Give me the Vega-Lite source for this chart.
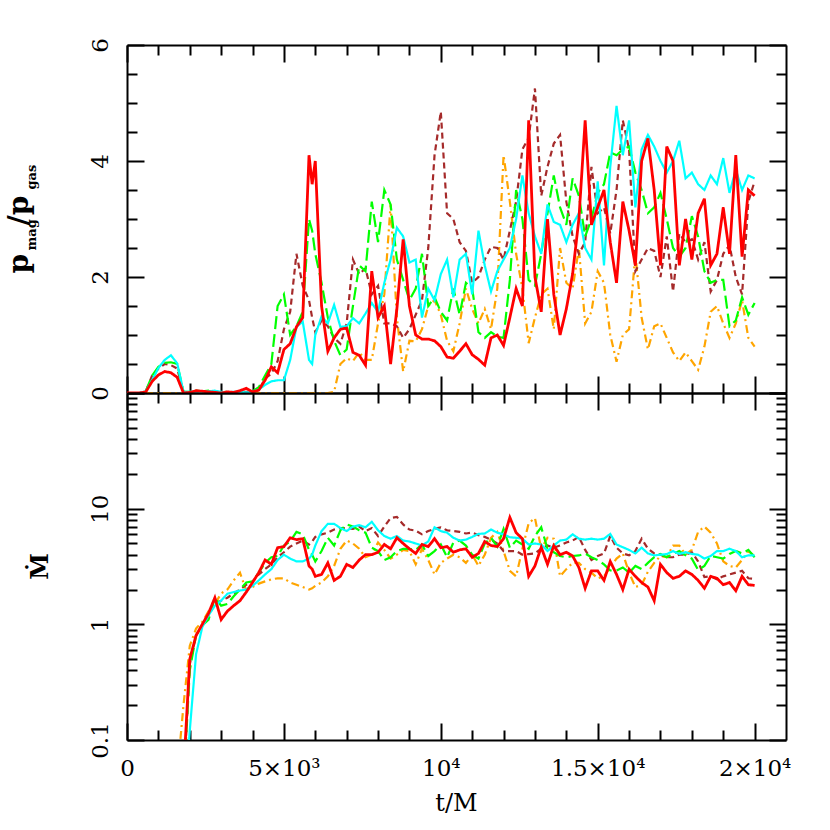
{
"$schema": "https://vega.github.io/schema/vega-lite/v6.json",
"padding": {"left": 5, "top": 37, "right": 5, "bottom": 5},
"background": "white",
"bounds": "flush",
"config": {
  "view": {"stroke": null},
  "axis": {"domainColor": "black", "domainWidth": 2, "tickColor": "black", "tickWidth": 2, "labelFont": "DejaVu Serif", "labelFontSize": 23, "labelColor": "black", "titleFont": "DejaVu Serif", "titleColor": "black", "grid": false, "labelOverlap": false, "labelFlush": false}
},
"datasets": {
"top": [
{"t":0,"c":0,"r":0,"g":0,"b":0,"o":0},
{"t":200,"c":0,"r":0,"g":0,"b":0,"o":0},
{"t":400,"c":0,"r":0,"g":0,"b":0,"o":0},
{"t":600,"c":0.03,"r":0.02,"g":0.03,"b":0.03,"o":0},
{"t":800,"c":0.22,"r":0.2,"g":0.3,"b":0.3,"o":0},
{"t":1000,"c":0.43,"r":0.31,"g":0.45,"b":0.42,"o":0},
{"t":1200,"c":0.57,"r":0.37,"g":0.52,"b":0.5,"o":0},
{"t":1400,"c":0.65,"r":0.35,"g":0.53,"b":0.48,"o":0},
{"t":1600,"c":0.51,"r":0.27,"g":0.5,"b":0.42,"o":0},
{"t":1800,"c":0.02,"r":0,"g":0.02,"b":0.02,"o":0},
{"t":2000,"c":0.02,"r":0.01,"g":0.02,"b":0.01,"o":0},
{"t":2200,"c":0.03,"r":0.04,"g":0.04,"b":0.02,"o":0},
{"t":2400,"c":0.02,"r":0.03,"g":0.03,"b":0.01,"o":0},
{"t":2600,"c":0.03,"r":0.02,"g":0.04,"b":0.02,"o":0},
{"t":2800,"c":0.04,"r":0.01,"g":0.02,"b":0.01,"o":0},
{"t":3000,"c":0.02,"r":0,"g":0.01,"b":0.02,"o":0},
{"t":3200,"c":0.01,"r":0.02,"g":0.02,"b":0.01,"o":0},
{"t":3400,"c":0.02,"r":0.01,"g":0.01,"b":0.01,"o":0},
{"t":3600,"c":0.02,"r":0.04,"g":0.02,"b":0.02,"o":0},
{"t":3800,"c":0.01,"r":0.08,"g":0.01,"b":0.02,"o":0},
{"t":4000,"c":0.02,"r":0.02,"g":0.03,"b":0.02,"o":0},
{"t":4200,"c":0.06,"r":0.05,"g":0.1,"b":0.05,"o":0},
{"t":4400,"c":0.14,"r":0.22,"g":0.3,"b":0.25,"o":0},
{"t":4600,"c":0.2,"r":0.45,"g":0.5,"b":0.33,"o":0},
{"t":4800,"c":0.22,"r":0.35,"g":1.5,"b":0.55,"o":0},
{"t":5000,"c":0.22,"r":0.75,"g":1.7,"b":1.1,"o":0},
{"t":5200,"c":0.57,"r":0.85,"g":1.0,"b":1.4,"o":0},
{"t":5400,"c":1.14,"r":1.14,"g":1.15,"b":2.4,"o":0},
{"t":5600,"c":1.23,"r":1.3,"g":1.4,"b":1.85,"o":0},
{"t":5800,"c":0.57,"r":4.1,"g":3.0,"b":1.6,"o":0},
{"t":5900,"c":0.5,"r":3.6,"g":2.8,"b":1.3,"o":0},
{"t":6000,"c":1.0,"r":4.0,"g":2.4,"b":1.05,"o":0},
{"t":6200,"c":1.32,"r":1.5,"g":1.9,"b":1.25,"o":0},
{"t":6400,"c":1.2,"r":0.72,"g":1.3,"b":1.15,"o":0},
{"t":6600,"c":1.52,"r":0.95,"g":0.9,"b":0.95,"o":0.02},
{"t":6800,"c":1.14,"r":1.1,"g":0.65,"b":0.85,"o":0.5},
{"t":7000,"c":1.15,"r":1.12,"g":0.75,"b":1.2,"o":0.6},
{"t":7200,"c":1.29,"r":0.7,"g":1.5,"b":2.3,"o":0.55},
{"t":7400,"c":1.2,"r":0.65,"g":2.2,"b":2.05,"o":0.7},
{"t":7600,"c":1.37,"r":0.48,"g":2.1,"b":2.15,"o":0.57},
{"t":7800,"c":1.55,"r":2.1,"g":3.3,"b":1.7,"o":0.57},
{"t":8000,"c":1.4,"r":1.3,"g":2.6,"b":1.85,"o":1.2},
{"t":8200,"c":1.9,"r":1.5,"g":3.5,"b":1.2,"o":1.7},
{"t":8400,"c":2.3,"r":0.5,"g":3.25,"b":1.2,"o":3.25},
{"t":8600,"c":2.85,"r":1.45,"g":2.3,"b":1.15,"o":1.3},
{"t":8800,"c":2.7,"r":2.65,"g":1.95,"b":0.95,"o":0.37},
{"t":9000,"c":2.25,"r":1.5,"g":1.6,"b":1.1,"o":0.9},
{"t":9200,"c":2.3,"r":1.0,"g":1.8,"b":1.35,"o":0.89},
{"t":9400,"c":1.3,"r":0.93,"g":2.4,"b":1.6,"o":1.1},
{"t":9600,"c":1.8,"r":0.93,"g":1.5,"b":2.5,"o":1.5},
{"t":9800,"c":1.6,"r":0.9,"g":1.65,"b":4.1,"o":1.6},
{"t":10000,"c":2.05,"r":0.8,"g":1.4,"b":4.85,"o":1.35},
{"t":10200,"c":2.3,"r":0.62,"g":1.25,"b":3.1,"o":0.9},
{"t":10400,"c":1.65,"r":0.6,"g":1.8,"b":3.0,"o":0.72},
{"t":10600,"c":2.3,"r":0.72,"g":1.35,"b":2.6,"o":1.2},
{"t":10800,"c":2.4,"r":0.85,"g":1.9,"b":2.45,"o":1.8},
{"t":11000,"c":1.7,"r":0.66,"g":1.8,"b":1.9,"o":1.45},
{"t":11200,"c":2.8,"r":0.58,"g":1.05,"b":2.0,"o":1.2},
{"t":11400,"c":2.2,"r":0.48,"g":0.95,"b":2.3,"o":1.45},
{"t":11600,"c":1.75,"r":0.95,"g":1.05,"b":2.52,"o":1.1},
{"t":11800,"c":2.1,"r":1.0,"g":0.97,"b":2.5,"o":1.8},
{"t":12000,"c":2.3,"r":0.82,"g":0.95,"b":2.3,"o":4.1},
{"t":12200,"c":2.5,"r":1.3,"g":1.95,"b":2.8,"o":3.3},
{"t":12400,"c":3.0,"r":1.8,"g":3.5,"b":3.3,"o":2.4},
{"t":12600,"c":3.75,"r":1.5,"g":3.0,"b":4.2,"o":1.8},
{"t":12800,"c":3.1,"r":4.7,"g":1.95,"b":4.4,"o":0.86},
{"t":13000,"c":2.7,"r":2.0,"g":1.85,"b":5.25,"o":1.3},
{"t":13200,"c":2.4,"r":1.4,"g":2.4,"b":3.4,"o":1.7},
{"t":13400,"c":3.25,"r":3.0,"g":3.1,"b":3.9,"o":1.8},
{"t":13600,"c":2.95,"r":1.7,"g":3.75,"b":4.3,"o":1.1},
{"t":13800,"c":2.9,"r":1.0,"g":3.2,"b":4.45,"o":2.5},
{"t":14000,"c":2.6,"r":1.45,"g":2.9,"b":3.3,"o":1.9},
{"t":14200,"c":2.9,"r":2.05,"g":3.7,"b":2.7,"o":1.8},
{"t":14400,"c":3.1,"r":3.0,"g":3.4,"b":2.4,"o":2.5},
{"t":14600,"c":2.5,"r":4.7,"g":2.7,"b":2.6,"o":1.2},
{"t":14800,"c":2.3,"r":2.9,"g":3.0,"b":3.9,"o":1.4},
{"t":15000,"c":3.65,"r":3.2,"g":3.45,"b":3.1,"o":2.1},
{"t":15200,"c":2.2,"r":3.5,"g":3.6,"b":3.2,"o":1.9},
{"t":15400,"c":3.9,"r":2.6,"g":4.15,"b":2.75,"o":1.0},
{"t":15600,"c":4.95,"r":1.9,"g":4.1,"b":3.5,"o":0.54},
{"t":15800,"c":4.1,"r":3.3,"g":4.2,"b":4.7,"o":1.0},
{"t":16000,"c":4.7,"r":2.8,"g":4.25,"b":4.2,"o":1.1},
{"t":16200,"c":3.2,"r":2.2,"g":3.8,"b":2.1,"o":2.4},
{"t":16400,"c":4.2,"r":4.0,"g":3.5,"b":2.3,"o":1.3},
{"t":16600,"c":4.45,"r":4.39,"g":3.1,"b":2.5,"o":0.75},
{"t":16800,"c":4.25,"r":3.5,"g":3.2,"b":2.45,"o":1.15},
{"t":17000,"c":4.0,"r":2.2,"g":3.45,"b":2.0,"o":1.2},
{"t":17200,"c":3.8,"r":4.25,"g":3.0,"b":2.7,"o":0.95},
{"t":17400,"c":4.0,"r":4.0,"g":2.5,"b":1.75,"o":0.7},
{"t":17600,"c":4.35,"r":2.2,"g":2.35,"b":2.75,"o":0.55},
{"t":17800,"c":3.7,"r":3.0,"g":2.5,"b":2.6,"o":0.7},
{"t":18000,"c":3.8,"r":2.3,"g":3.05,"b":2.65,"o":0.55},
{"t":18200,"c":3.6,"r":3.1,"g":2.7,"b":2.3,"o":0.4},
{"t":18400,"c":3.5,"r":3.35,"g":2.1,"b":2.6,"o":0.8},
{"t":18600,"c":3.75,"r":2.2,"g":1.9,"b":1.75,"o":1.4},
{"t":18800,"c":3.6,"r":2.4,"g":1.95,"b":1.95,"o":1.5},
{"t":19000,"c":4.05,"r":3.2,"g":1.95,"b":2.4,"o":1.2},
{"t":19200,"c":3.45,"r":2.4,"g":1.15,"b":2.55,"o":0.95},
{"t":19400,"c":3.85,"r":4.1,"g":1.25,"b":2.0,"o":1.2},
{"t":19600,"c":3.5,"r":2.35,"g":1.65,"b":1.7,"o":1.6},
{"t":19800,"c":3.75,"r":3.5,"g":1.35,"b":3.3,"o":0.95},
{"t":20000,"c":3.7,"r":3.4,"g":1.55,"b":3.65,"o":0.8}
],
"bot": [
{"t":1600,"c":null,"r":null,"g":null,"b":null,"o":0.05},
{"t":1800,"c":0.02,"r":0.05,"g":0.04,"b":0.04,"o":0.2},
{"t":2000,"c":0.12,"r":0.5,"g":0.4,"b":0.45,"o":0.65},
{"t":2200,"c":0.55,"r":0.8,"g":0.8,"b":0.8,"o":0.92},
{"t":2400,"c":0.95,"r":1.0,"g":0.98,"b":1.0,"o":1.05},
{"t":2600,"c":1.2,"r":1.25,"g":1.1,"b":1.2,"o":1.3},
{"t":2800,"c":1.45,"r":1.7,"g":1.7,"b":1.5,"o":1.5},
{"t":3000,"c":1.6,"r":1.1,"g":1.45,"b":1.6,"o":1.85},
{"t":3200,"c":1.84,"r":1.3,"g":1.5,"b":1.7,"o":2.0},
{"t":3400,"c":1.9,"r":1.45,"g":1.75,"b":1.85,"o":2.4},
{"t":3600,"c":1.96,"r":1.6,"g":2.0,"b":2.0,"o":2.8},
{"t":3800,"c":2.0,"r":1.9,"g":2.3,"b":2.2,"o":1.96},
{"t":4000,"c":2.15,"r":2.3,"g":2.35,"b":2.35,"o":2.1},
{"t":4200,"c":2.4,"r":2.8,"g":2.8,"b":2.7,"o":2.25},
{"t":4400,"c":2.7,"r":3.6,"g":3.4,"b":3.0,"o":2.35},
{"t":4600,"c":3.0,"r":3.3,"g":3.8,"b":3.3,"o":2.45},
{"t":4800,"c":3.6,"r":4.6,"g":3.9,"b":3.8,"o":2.5},
{"t":5000,"c":4.0,"r":4.7,"g":4.8,"b":4.2,"o":2.5},
{"t":5200,"c":3.7,"r":5.6,"g":5.2,"b":4.7,"o":2.3},
{"t":5400,"c":3.5,"r":5.4,"g":6.3,"b":5.0,"o":2.2},
{"t":5600,"c":3.5,"r":5.5,"g":6.0,"b":5.3,"o":2.1},
{"t":5800,"c":3.7,"r":3.2,"g":4.4,"b":4.9,"o":2.0},
{"t":5900,"c":4.0,"r":3.0,"g":4.0,"b":5.2,"o":2.05},
{"t":6000,"c":4.8,"r":2.6,"g":3.5,"b":5.7,"o":2.15},
{"t":6200,"c":6.4,"r":2.7,"g":4.3,"b":6.0,"o":2.3},
{"t":6400,"c":7.4,"r":3.4,"g":5.6,"b":6.2,"o":2.6},
{"t":6600,"c":7.4,"r":2.4,"g":4.8,"b":6.6,"o":3.2},
{"t":6800,"c":6.8,"r":2.6,"g":6.5,"b":6.8,"o":4.5},
{"t":7000,"c":6.4,"r":3.3,"g":7.3,"b":6.8,"o":5.3},
{"t":7200,"c":7.0,"r":3.1,"g":7.0,"b":6.7,"o":5.0},
{"t":7400,"c":7.2,"r":3.6,"g":6.5,"b":7.0,"o":4.5},
{"t":7600,"c":6.9,"r":4.0,"g":6.2,"b":6.4,"o":3.8},
{"t":7800,"c":7.7,"r":4.0,"g":4.6,"b":6.8,"o":4.0},
{"t":8000,"c":6.5,"r":4.2,"g":4.3,"b":5.8,"o":5.1},
{"t":8200,"c":5.8,"r":4.9,"g":3.6,"b":7.0,"o":4.4},
{"t":8400,"c":5.5,"r":4.5,"g":3.8,"b":8.3,"o":3.7},
{"t":8600,"c":5.8,"r":5.6,"g":4.3,"b":8.5,"o":4.0},
{"t":8800,"c":5.3,"r":5.0,"g":4.5,"b":7.3,"o":4.4},
{"t":9000,"c":5.2,"r":4.5,"g":4.5,"b":6.6,"o":4.3},
{"t":9200,"c":5.0,"r":4.1,"g":4.4,"b":6.45,"o":3.3},
{"t":9400,"c":4.8,"r":4.9,"g":4.9,"b":6.0,"o":4.5},
{"t":9600,"c":5.2,"r":4.7,"g":3.9,"b":6.4,"o":3.6},
{"t":9800,"c":6.9,"r":5.5,"g":4.3,"b":6.7,"o":2.7},
{"t":10000,"c":6.4,"r":4.6,"g":4.9,"b":6.9,"o":3.4},
{"t":10200,"c":6.2,"r":4.7,"g":3.8,"b":6.5,"o":3.7},
{"t":10400,"c":5.6,"r":4.2,"g":5.1,"b":6.4,"o":4.0},
{"t":10600,"c":5.3,"r":4.4,"g":5.3,"b":6.3,"o":3.8},
{"t":10800,"c":5.4,"r":4.5,"g":4.8,"b":6.1,"o":3.4},
{"t":11000,"c":5.7,"r":3.8,"g":4.0,"b":6.2,"o":4.0},
{"t":11200,"c":6.05,"r":4.1,"g":3.7,"b":5.9,"o":3.2},
{"t":11400,"c":6.1,"r":5.2,"g":5.0,"b":5.7,"o":4.0},
{"t":11600,"c":6.6,"r":4.8,"g":5.6,"b":5.4,"o":5.6},
{"t":11800,"c":6.2,"r":4.7,"g":4.7,"b":5.0,"o":6.3},
{"t":12000,"c":6.0,"r":5.5,"g":6.7,"b":4.3,"o":4.3},
{"t":12200,"c":5.66,"r":8.4,"g":4.6,"b":4.3,"o":2.9},
{"t":12400,"c":5.6,"r":6.2,"g":5.3,"b":4.3,"o":2.6},
{"t":12600,"c":5.5,"r":5.5,"g":4.9,"b":4.0,"o":4.5},
{"t":12800,"c":4.9,"r":2.6,"g":4.5,"b":4.05,"o":7.5},
{"t":13000,"c":5.0,"r":3.2,"g":5.8,"b":4.1,"o":8.3},
{"t":13200,"c":4.9,"r":4.64,"g":6.9,"b":4.5,"o":4.5},
{"t":13400,"c":4.3,"r":3.3,"g":4.5,"b":4.8,"o":5.6},
{"t":13600,"c":4.8,"r":4.8,"g":4.2,"b":4.6,"o":5.5},
{"t":13800,"c":5.3,"r":4.0,"g":3.9,"b":4.8,"o":2.6},
{"t":14000,"c":5.4,"r":4.2,"g":3.8,"b":5.1,"o":3.0},
{"t":14200,"c":6.0,"r":3.9,"g":3.9,"b":5.3,"o":3.4},
{"t":14400,"c":5.5,"r":3.1,"g":3.94,"b":5.7,"o":3.4},
{"t":14600,"c":5.4,"r":2.05,"g":4.1,"b":4.4,"o":3.0},
{"t":14800,"c":5.5,"r":2.9,"g":3.8,"b":3.6,"o":2.8},
{"t":15000,"c":5.4,"r":2.9,"g":3.6,"b":3.9,"o":2.5},
{"t":15200,"c":5.5,"r":2.4,"g":3.3,"b":4.1,"o":2.6},
{"t":15400,"c":6.05,"r":3.5,"g":2.92,"b":5.8,"o":3.1},
{"t":15600,"c":4.9,"r":2.7,"g":2.92,"b":4.6,"o":3.7},
{"t":15800,"c":4.64,"r":2.0,"g":3.1,"b":4.1,"o":4.1},
{"t":16000,"c":4.4,"r":3.0,"g":2.8,"b":3.95,"o":2.8},
{"t":16200,"c":4.1,"r":2.6,"g":3.2,"b":4.3,"o":2.1},
{"t":16400,"c":4.6,"r":2.3,"g":3.0,"b":5.5,"o":2.2},
{"t":16600,"c":4.1,"r":2.1,"g":3.4,"b":4.5,"o":2.85},
{"t":16800,"c":3.94,"r":1.6,"g":3.8,"b":4.1,"o":3.4},
{"t":17000,"c":4.0,"r":3.3,"g":4.06,"b":4.0,"o":3.9},
{"t":17200,"c":4.05,"r":2.8,"g":3.8,"b":3.8,"o":3.8},
{"t":17400,"c":4.3,"r":2.5,"g":4.06,"b":3.8,"o":4.8},
{"t":17600,"c":4.06,"r":2.6,"g":4.3,"b":4.0,"o":4.8},
{"t":17800,"c":4.2,"r":2.9,"g":3.95,"b":4.0,"o":4.0},
{"t":18000,"c":4.06,"r":2.7,"g":3.7,"b":4.2,"o":4.4},
{"t":18200,"c":4.0,"r":2.4,"g":2.95,"b":3.5,"o":6.3},
{"t":18400,"c":3.7,"r":2.05,"g":3.2,"b":2.56,"o":7.0},
{"t":18600,"c":3.9,"r":2.6,"g":3.9,"b":2.6,"o":6.2},
{"t":18800,"c":4.3,"r":2.5,"g":3.8,"b":2.45,"o":5.0},
{"t":19000,"c":4.3,"r":2.2,"g":3.7,"b":2.6,"o":3.5},
{"t":19200,"c":4.5,"r":2.3,"g":4.06,"b":2.7,"o":3.2},
{"t":19400,"c":4.3,"r":1.95,"g":4.3,"b":2.8,"o":3.1},
{"t":19600,"c":3.8,"r":2.6,"g":4.1,"b":2.9,"o":3.6},
{"t":19800,"c":3.95,"r":2.2,"g":4.4,"b":2.5,"o":4.3},
{"t":20000,"c":3.94,"r":2.17,"g":3.8,"b":2.47,"o":3.9}
]
},
"spacing": 0,
"vconcat": [
{
  "width": 659, "height": 348,
  "data": {"name": "top"},
  "transform": [{"fold": ["o","b","g","c","r"], "as": ["s","v"]}],
  "layer": [
    {
      "mark": {"type": "line", "clip": true},
      "encoding": {
        "x": {"field": "t", "type": "quantitative", "scale": {"domain": [0, 21000], "nice": false, "zero": false},
          "axis": {"orient": "bottom", "values": [0,1000,2000,3000,4000,5000,6000,7000,8000,9000,10000,11000,12000,13000,14000,15000,16000,17000,18000,19000,20000],
            "tickSize": {"condition": {"test": "datum.value % 5000 === 0", "value": -17}, "value": -10},
            "labels": false, "title": null}},
        "y": {"field": "v", "type": "quantitative", "scale": {"domain": [0, 6], "nice": false},
          "axis": {"orient": "left", "values": [0,0.5,1,1.5,2,2.5,3,3.5,4,4.5,5,5.5,6],
            "tickSize": {"condition": {"test": "datum.value % 2 === 0", "value": -17}, "value": -10},
            "labelExpr": "datum.value == 0 ? '0' : datum.value == 2 ? '2' : datum.value == 4 ? '4' : datum.value == 6 ? '6' : ''",
            "labelAngle": -90, "labelAlign": "center", "labelBaseline": "bottom", "labelPadding": 32,
            "title": "p", "titleFontSize": 28, "titleFontWeight": "bold", "titleAngle": -90, "titleAlign": "left", "titleBaseline": "alphabetic", "titleX": -100, "titleY": 228}},
        "color": {"field": "s", "type": "nominal", "scale": {"domain": ["o","b","g","c","r"], "range": ["#FFA500","#A52A2A","#00FF00","#00FFFF","#FF0000"]}, "legend": null},
        "strokeDash": {"field": "s", "type": "nominal", "scale": {"domain": ["o","b","g","c","r"], "range": [[8,4,2,4],[6,4],[13,5],[1,0],[1,0]]}, "legend": null},
        "strokeWidth": {"condition": {"test": "datum.s === 'r'", "value": 2.8}, "value": 2.2}
      }
    },
    {
      "mark": {"type": "line", "strokeOpacity": 0},
      "encoding": {
        "x": {"field": "t", "type": "quantitative",
          "axis": {"orient": "top", "values": [0,1000,2000,3000,4000,5000,6000,7000,8000,9000,10000,11000,12000,13000,14000,15000,16000,17000,18000,19000,20000],
            "tickSize": {"condition": {"test": "datum.value % 5000 === 0", "value": -17}, "value": -10},
            "labels": false, "title": null}},
        "y": {"field": "v", "type": "quantitative",
          "axis": {"orient": "right", "values": [0,0.5,1,1.5,2,2.5,3,3.5,4,4.5,5,5.5,6],
            "tickSize": {"condition": {"test": "datum.value % 2 === 0", "value": -17}, "value": -10},
            "labels": false, "title": null}}
      }
    },
    {
      "mark": {"type": "line", "strokeOpacity": 0},
      "encoding": {
        "x": {"field": "t", "type": "quantitative", "axis": null},
        "y": {"field": "v", "type": "quantitative",
          "axis": {"orient": "left", "labels": false, "ticks": false, "domain": false,
            "title": "mag", "titleFontSize": 13, "titleFontWeight": "bold", "titleAngle": -90, "titleAlign": "left", "titleBaseline": "alphabetic", "titleX": -92, "titleY": 205}}
      }
    },
    {
      "mark": {"type": "line", "strokeOpacity": 0},
      "encoding": {
        "x": {"field": "t", "type": "quantitative", "axis": null},
        "y": {"field": "v", "type": "quantitative",
          "axis": {"orient": "left", "labels": false, "ticks": false, "domain": false,
            "title": "/p", "titleFontSize": 28, "titleFontWeight": "bold", "titleAngle": -90, "titleAlign": "left", "titleBaseline": "alphabetic", "titleX": -100, "titleY": 180}}
      }
    },
    {
      "mark": {"type": "line", "strokeOpacity": 0},
      "encoding": {
        "x": {"field": "t", "type": "quantitative", "axis": null},
        "y": {"field": "v", "type": "quantitative",
          "axis": {"orient": "left", "labels": false, "ticks": false, "domain": false,
            "title": "gas", "titleFontSize": 13, "titleFontWeight": "bold", "titleAngle": -90, "titleAlign": "left", "titleBaseline": "alphabetic", "titleX": -92, "titleY": 144}}
      }
    }
  ],
  "resolve": {"axis": {"x": "independent", "y": "independent"}}
},
{
  "width": 659, "height": 347,
  "data": {"name": "bot"},
  "transform": [{"fold": ["o","b","g","c","r"], "as": ["s","v"]}],
  "layer": [
    {
      "mark": {"type": "line", "clip": true},
      "encoding": {
        "x": {"field": "t", "type": "quantitative", "scale": {"domain": [0, 21000], "nice": false, "zero": false},
          "axis": {"orient": "bottom", "values": [0,1000,2000,3000,4000,5000,6000,7000,8000,9000,10000,11000,12000,13000,14000,15000,16000,17000,18000,19000,20000],
            "tickSize": {"condition": {"test": "datum.value % 5000 === 0", "value": -17}, "value": -10},
            "labelExpr": "datum.value == 0 ? '0' : datum.value == 5000 ? '5×10³' : datum.value == 10000 ? '10⁴' : datum.value == 15000 ? '1.5×10⁴' : datum.value == 20000 ? '2×10⁴' : ''",
            "labelAngle": 0, "labelAlign": "center", "labelBaseline": "top", "labelPadding": 34,
            "title": "t/M", "titleFontSize": 24, "titleFontWeight": "normal", "titleAlign": "center", "titleBaseline": "alphabetic", "titleX": 329, "titleY": 70}},
        "y": {"field": "v", "type": "quantitative", "scale": {"type": "log", "domain": [0.1, 100], "nice": false},
          "axis": {"orient": "left", "values": [0.1,0.2,0.3,0.4,0.5,0.6,0.7,0.8,0.9,1,2,3,4,5,6,7,8,9,10,20,30,40,50,60,70,80,90,100],
            "tickSize": {"condition": {"test": "indexof([0.1,1,10,100], datum.value) >= 0", "value": -17}, "value": -10},
            "labelExpr": "datum.value == 0.1 ? '0.1' : datum.value == 1 ? '1' : datum.value == 10 ? '10' : ''",
            "labelAngle": -90, "labelAlign": "center", "labelBaseline": "bottom", "labelPadding": 32,
            "title": "Ṁ", "titleFontSize": 24, "titleFontWeight": "bold", "titleAngle": -90, "titleAlign": "center", "titleBaseline": "alphabetic", "titleX": -80, "titleY": 173}},
        "color": {"field": "s", "type": "nominal", "scale": {"domain": ["o","b","g","c","r"], "range": ["#FFA500","#A52A2A","#00FF00","#00FFFF","#FF0000"]}, "legend": null},
        "strokeDash": {"field": "s", "type": "nominal", "scale": {"domain": ["o","b","g","c","r"], "range": [[8,4,2,4],[6,4],[13,5],[1,0],[1,0]]}, "legend": null},
        "strokeWidth": {"condition": {"test": "datum.s === 'r'", "value": 2.8}, "value": 2.2}
      }
    },
    {
      "mark": {"type": "line", "strokeOpacity": 0},
      "encoding": {
        "x": {"field": "t", "type": "quantitative",
          "axis": {"orient": "top", "values": [0,1000,2000,3000,4000,5000,6000,7000,8000,9000,10000,11000,12000,13000,14000,15000,16000,17000,18000,19000,20000],
            "tickSize": {"condition": {"test": "datum.value % 5000 === 0", "value": -17}, "value": -10},
            "labels": false, "title": null}},
        "y": {"field": "v", "type": "quantitative",
          "axis": {"orient": "right", "values": [0.1,0.2,0.3,0.4,0.5,0.6,0.7,0.8,0.9,1,2,3,4,5,6,7,8,9,10,20,30,40,50,60,70,80,90,100],
            "tickSize": {"condition": {"test": "indexof([0.1,1,10,100], datum.value) >= 0", "value": -17}, "value": -10},
            "labels": false, "title": null}}
      }
    }
  ],
  "resolve": {"axis": {"x": "independent", "y": "independent"}}
}
]
}
